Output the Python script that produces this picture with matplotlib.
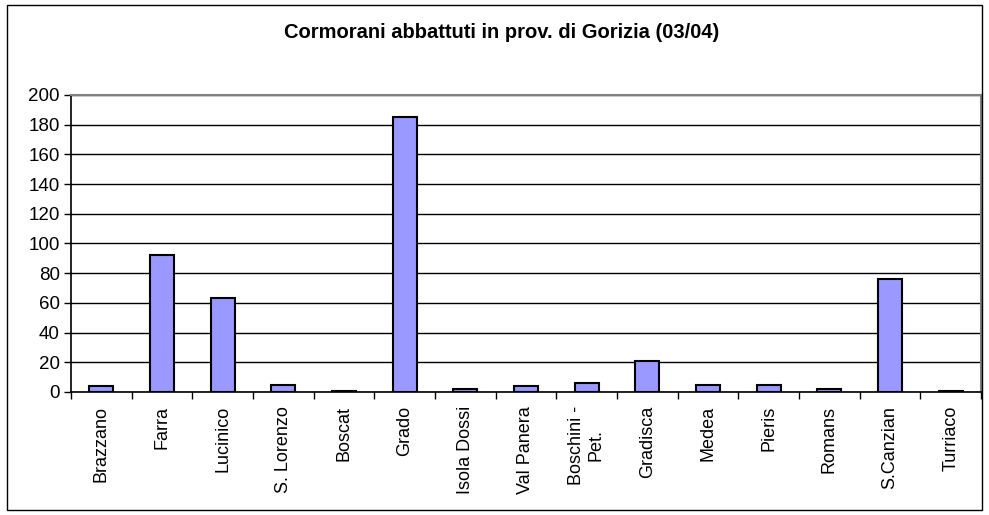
import matplotlib
matplotlib.use("Agg")
import matplotlib.pyplot as plt
from matplotlib.patches import Rectangle
import numpy as np

plt.rcParams['font.family'] = ['Liberation Sans', 'DejaVu Sans']

# data
places = ["Brazzano", "Farra", "Lucinico", "S. Lorenzo", "Boscat", "Grado",
          "Isola Dossi", "Val Panera", "Boschini -\nPet.", "Gradisca", "Medea",
          "Pieris", "Romans", "S.Canzian", "Turriaco"]
killed = [4, 92, 63, 5, 1, 185, 2, 4, 6, 21, 5, 5, 2, 76, 1]
y_ticks = [0, 20, 40, 60, 80, 100, 120, 140, 160, 180, 200]

W, H = 989, 515
fig = plt.figure(figsize=(W / 100, H / 100), dpi=100)

# outer chart border
fig.patches.append(Rectangle((7 / W, 5 / H), 975 / W, 505 / H,
                             transform=fig.transFigure, fill=False,
                             edgecolor='black', linewidth=1))

ax = fig.add_axes([71 / W, 123 / H, 910 / W, 297 / H])
x = np.arange(len(places))

ax.bar(x, killed, width=0.4, color='#9999FF', edgecolor='black',
       linewidth=1.5, zorder=3)

ax.set_xlim(-0.5, len(places) - 0.5)
ax.set_ylim(0, 200)
ax.set_yticks(y_ticks)
ax.yaxis.grid(True, color='black', linewidth=1, zorder=0)

ax.set_xticks(x)
ax.set_xticklabels(places, rotation=90, va='top', ha='center',
                   multialignment='center')
ax.tick_params(axis='x', which='major', length=0, pad=10, labelsize=13)
ax.set_xticks(np.arange(len(places) + 1) - 0.5, minor=True)
ax.tick_params(axis='x', which='minor', length=5, width=1, direction='out')
ax.tick_params(axis='y', length=5, width=1, direction='out', labelsize=13.5,
               pad=3)

for side in ['left', 'bottom']:
    ax.spines[side].set_color('black')
    ax.spines[side].set_linewidth(1.2)
for side in ['top', 'right']:
    ax.spines[side].set_color('#808080')
    ax.spines[side].set_linewidth(1.5)

fig.text(502 / W, 1 - 32 / H, "Cormorani abbattuti in prov. di Gorizia (03/04)",
         ha='center', va='center', fontsize=14.5, fontweight='bold')

fig.savefig("out.png", dpi=100)
